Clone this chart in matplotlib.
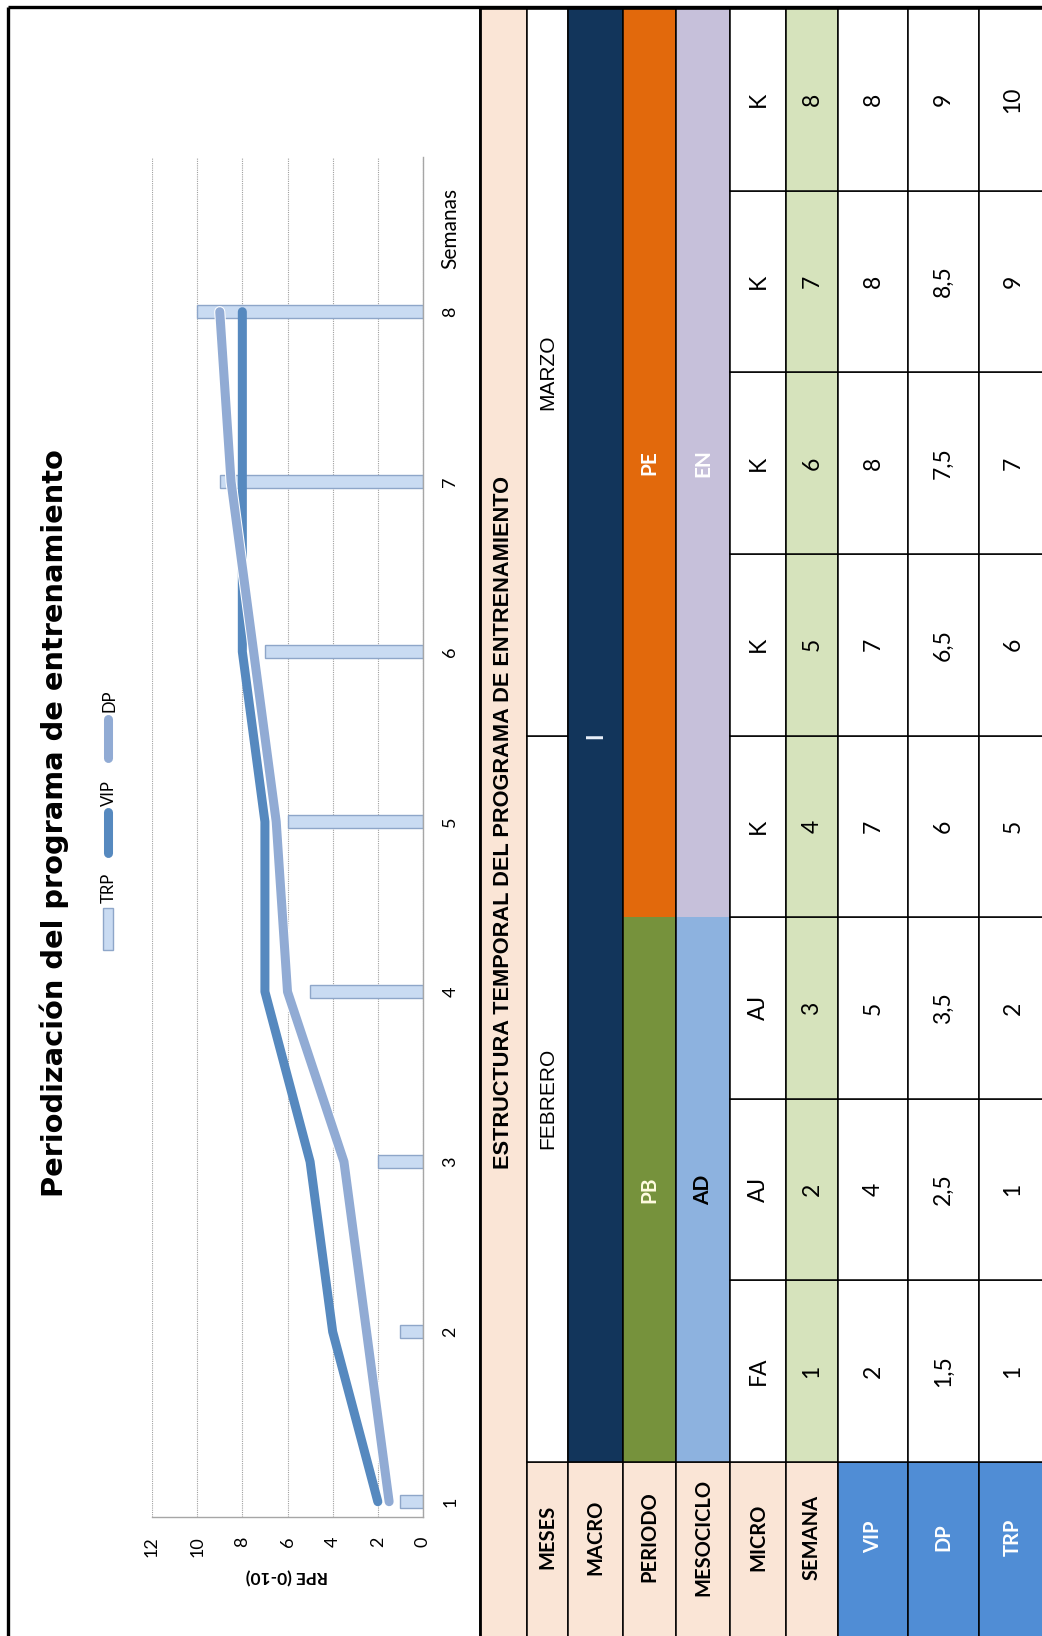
import matplotlib
matplotlib.use('Agg')
import matplotlib.pyplot as plt
import matplotlib.patheffects as pe
from matplotlib.patches import Rectangle
import numpy as np

# ---- data ----
weeks = [1, 2, 3, 4, 5, 6, 7, 8]
vip = [2, 4, 5, 7, 7, 8, 8, 8]
dp = [1.5, 2.5, 3.5, 6, 6.5, 7.5, 8.5, 9]
trp = [1, 1, 2, 5, 6, 7, 9, 10]
micro = ['FA', 'AJ', 'AJ', 'K', 'K', 'K', 'K', 'K']

months = ['FEBRERO', 'MARZO']
month_weeks = [(1, 4), (5, 8)]
macro = 'I'
periods = ['PB', 'PE']
period_weeks = [(1, 3), (4, 8)]
mesos = ['AD', 'EN']
meso_weeks = [(1, 3), (4, 8)]

row_labels = ['MESES', 'MACRO', 'PERIODO', 'MESOCICLO', 'MICRO', 'SEMANA', 'VIP', 'DP', 'TRP']

PEACH = '#FAE5D6'
NAVY = '#12355B'
ORANGE = '#E2690C'
OLIVE = '#76923C'
LAVENDER = '#C6C0DA'
LIGHTBLUE = '#8DB2DF'
LIGHTGREEN = '#D6E3BC'
HEADBLUE = '#508DD5'
C_VIP = '#5689BF'
C_DP = '#91ABD4'

W, H = 1042, 1636
fig = plt.figure(figsize=(W / 100, H / 100), dpi=100)

# background axes in pixel units (y down)
bg = fig.add_axes([0, 0, 1, 1])
bg.set_xlim(0, W)
bg.set_ylim(H, 0)
bg.axis('off')

FONT = 'Lato'
ARIAL = 'Liberation Sans'

# ---- table (rotated) ----
col_x = [480, 527, 568, 623, 676, 730, 786, 838, 908, 979, 1047]
top, head = 9, 1462
step = (head - top) / 8


def week_span(w0, w1):
    # y-range covering weeks w0..w1 (week 1 at the bottom)
    y0 = top + (8 - w1) * step
    y1 = top + (8 - w0 + 1) * step
    return y0, y1


def cell(c, y0, y1, color, edge=True):
    x0, x1 = col_x[c], col_x[c + 1]
    bg.add_patch(Rectangle((x0, y0), x1 - x0, y1 - y0, facecolor=color,
                           edgecolor='black' if edge else 'none', lw=1.1, zorder=1))


def ctext(c, y, s, color='black', bold=False, size=16.5, family=FONT):
    x = (col_x[c] + col_x[c + 1]) / 2
    bg.text(x, y, s, rotation=90, ha='center', va='center', color=color,
            fontsize=size, fontweight='bold' if bold else 'normal', family=family, zorder=3)


# title strip
cell(0, top, H + 5, PEACH)
ctext(0, (top + H) / 2, 'ESTRUCTURA TEMPORAL DEL PROGRAMA DE ENTRENAMIENTO',
      bold=True, size=15.7, family=ARIAL)

# header cells
for i, lab in enumerate(row_labels):
    c = i + 1
    blue = lab in ('VIP', 'DP', 'TRP')
    cell(c, head, H + 5, HEADBLUE if blue else PEACH)
    ctext(c, (head + H) / 2 - 12, lab, color='white' if blue else 'black', bold=True, size=14.5)

# months
for name, (w0, w1) in zip(months, month_weeks):
    y0, y1 = week_span(w0, w1)
    cell(1, y0, y1, 'white')
    ctext(1, (y0 + y1) / 2, name, size=15, family=ARIAL)

# macro
cell(2, top, head, NAVY)
ctext(2, (top + head) / 2, macro, color='#EAF1FB', bold=True, size=16)

# periods / mesocycles
for c, names, spans, colors, tcolors in [
        (3, periods, period_weeks, [OLIVE, ORANGE], ['#FFFBE0', 'white']),
        (4, mesos, meso_weeks, [LIGHTBLUE, LAVENDER], ['black', 'white'])]:
    for name, (w0, w1), col, tc in zip(names, spans, colors, tcolors):
        y0, y1 = week_span(w0, w1)
        cell(c, y0, y1, col, edge=False)
        ctext(c, (y0 + y1) / 2, name, color=tc, bold=True, size=15)
    cell(c, top, head, 'none')


def fmt(v):
    return f'{v:g}'.replace('.', ',')


# weekly cells
for i, w in enumerate(weeks):
    y0, y1 = week_span(w, w)
    yc = (y0 + y1) / 2
    cell(5, y0, y1, 'white')
    ctext(5, yc, micro[i])
    cell(6, y0, y1, LIGHTGREEN)
    ctext(6, yc, str(w))
    for c, vals in [(7, vip), (8, dp), (9, trp)]:
        cell(c, y0, y1, 'white')
        ctext(c, yc, fmt(vals[i]))

# outer frame
bg.plot([8, W], [7, 7], color='black', lw=2.4, zorder=5, solid_capstyle='butt')
bg.plot([8, 8], [7, H], color='black', lw=2.4, zorder=5, solid_capstyle='butt')
bg.plot([480, 480], [7, H], color='black', lw=2.0, zorder=5, solid_capstyle='butt')

# ---- chart (rotated: weeks vertical, RPE horizontal) ----
px0, px1, py0, py1 = 152, 423, 157, 1517
ax = fig.add_axes([px0 / W, (H - py1) / H, (px1 - px0) / W, (py1 - py0) / H])
ax.set_facecolor('none')

ax.barh(weeks, trp, height=0.075, color='#C9DBF2', edgecolor='#8EA6C9', linewidth=1.0, zorder=2)
ax.plot(vip, weeks, color=C_VIP, lw=6.5, solid_capstyle='round', solid_joinstyle='round', zorder=3)
ax.plot(dp, weeks, color=C_DP, lw=6.5, solid_capstyle='round', solid_joinstyle='round', zorder=4,
        path_effects=[pe.Stroke(linewidth=8, foreground='white'), pe.Normal()])

ax.set_xlim(12, 0)
ax.set_ylim(0.91, 8.91)
ax.set_xticks(np.arange(0, 13, 2))
ax.set_yticks(weeks)
ax.grid(axis='x', linestyle=(0, (1, 1)), color='#A0A0A0', linewidth=0.8, zorder=0)
ax.yaxis.tick_right()
for s in ('top', 'left'):
    ax.spines[s].set_visible(False)
for s in ('right', 'bottom'):
    ax.spines[s].set_color('#A6A6A6')
    ax.spines[s].set_linewidth(1.0)
ax.tick_params(axis='x', length=0, pad=14, labelsize=13, labelrotation=90)
ax.tick_params(axis='y', length=0, pad=14, labelsize=13, labelrotation=90)
for t in ax.get_xticklabels() + ax.get_yticklabels():
    t.set_family(FONT)
for t in ax.get_yticklabels():
    t.set_va('center')

# chart texts
bg.text(54, 823, 'Periodización del programa de entrenamiento', rotation=90,
        ha='center', va='center', fontsize=20.8, fontweight='bold', family='DejaVu Sans')
bg.text(450, 228, 'Semanas', rotation=90, ha='center', va='center', fontsize=15, family=FONT)
bg.text(287, 1576, 'RPE (0-10)', rotation=180, ha='center', va='center', fontsize=12.5,
        fontweight='bold', family=FONT)

# legend
bg.add_patch(Rectangle((103, 908), 10, 42, facecolor='#C9DBF2', edgecolor='#8EA6C9', lw=1.0))
bg.text(109, 888, 'TRP', rotation=90, ha='center', va='center', fontsize=12, family=FONT)
bg.plot([108, 108], [812, 853], color=C_VIP, lw=6.5, solid_capstyle='round')
bg.text(109, 793, 'VIP', rotation=90, ha='center', va='center', fontsize=12, family=FONT)
bg.plot([108, 108], [719, 758], color=C_DP, lw=6.5, solid_capstyle='round')
bg.text(109, 701, 'DP', rotation=90, ha='center', va='center', fontsize=12, family=FONT)

fig.savefig('out.png', dpi=100, facecolor='white')
